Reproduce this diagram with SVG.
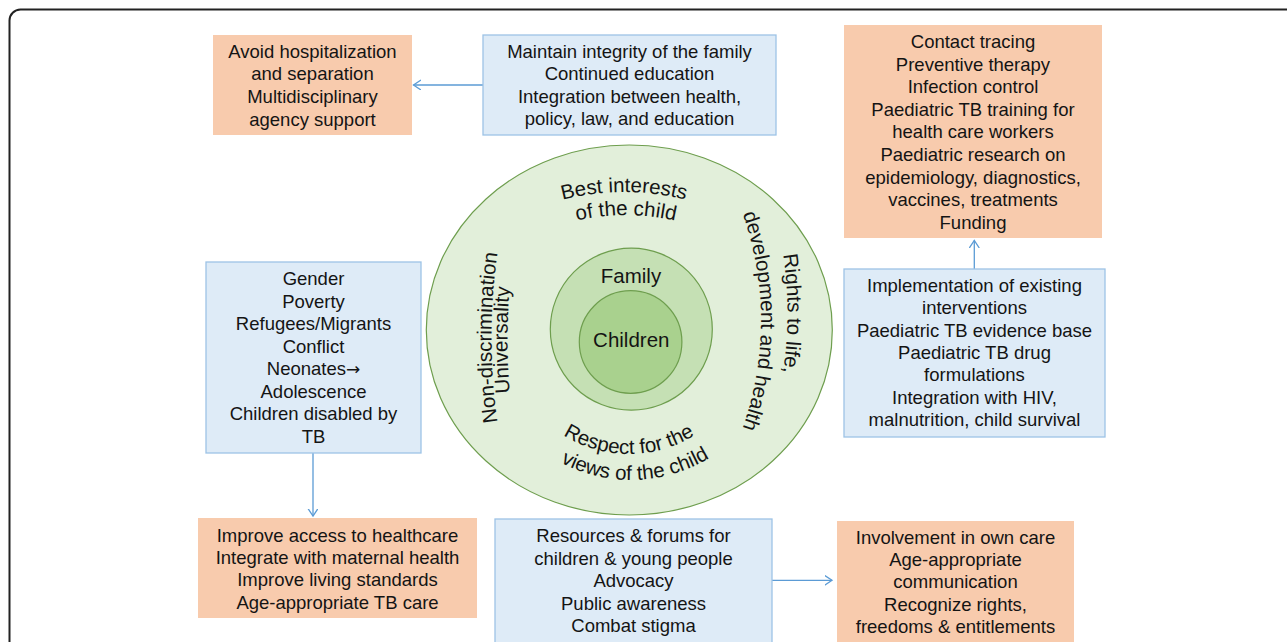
<svg xmlns="http://www.w3.org/2000/svg" width="1287" height="642" viewBox="0 0 1287 642">
<style>
.t{font-family:"Liberation Sans",Arial,Helvetica,sans-serif;font-size:18.5px;fill:#141414;text-anchor:middle}
.c{font-family:"Liberation Sans",Arial,Helvetica,sans-serif;font-size:20.5px;fill:#141414}
.m{text-anchor:middle}
.ar{font-family:"DejaVu Sans",sans-serif;font-size:17px}
.or{fill:#f8cbad;stroke:none}
.bl{fill:#deebf7;stroke:#9dc3e6;stroke-width:1.3}
.cn{stroke:#5b9bd5;stroke-width:1.3;fill:none;marker-end:url(#ah)}
.g{stroke:#6e9e4e;stroke-width:1.2}
</style>
<defs>
<marker id="ah" markerWidth="10" markerHeight="12" refX="7.5" refY="5" orient="auto" markerUnits="userSpaceOnUse">
<path d="M0,0 L7.5,5 L0,10" fill="none" stroke="#5b9bd5" stroke-width="1.3"/>
</marker>
<path id="pBest" d="M378,438 A246,246 0 0 1 870,438"/>
<path id="pOf" d="M407,434 A219,219 0 0 1 845,434"/>
<path id="pRights" d="M387.5,-86.5 A400,400 0 0 1 387.5,713.5"/>
<path id="pDev" d="M439,-1 A322,322 0 0 1 439,643"/>
<path id="pNon" d="M1091.5,937.5 A600,600 0 0 1 1091.5,-262.5"/>
<path id="pUni" d="M1107.5,940 A600,600 0 0 1 1107.5,-260"/>
<path id="pResp" d="M505,330 A124,124 0 0 0 753,330"/>
<path id="pViews" d="M481,330 A150,150 0 0 0 781,330"/>
</defs>
<rect x="9.5" y="9.5" width="1288" height="643" rx="11" fill="#fff" stroke="#222" stroke-width="2"/>

<g id="circles">
<ellipse cx="629.3" cy="330" rx="203" ry="185" fill="#e2efda" class="g"/>
<circle cx="631.3" cy="329.2" r="81" fill="#c5e0b4" class="g"/>
<circle cx="630.6" cy="342" r="51.3" fill="#a9d18e" class="g"/>
<text class="c m" x="631" y="282.7">Family</text>
<text class="c m" x="631.3" y="346.7">Children</text>
<text class="c m"><textPath href="#pBest" startOffset="50%">Best interests</textPath></text>
<text class="c m"><textPath href="#pOf" startOffset="50%">of the child</textPath></text>
<text class="c m"><textPath href="#pRights" startOffset="50%">Rights to life,</textPath></text>
<text class="c m"><textPath href="#pDev" startOffset="50%">development and health</textPath></text>
<text class="c m"><textPath href="#pNon" startOffset="50%">Non-discrimination</textPath></text>
<text class="c m"><textPath href="#pUni" startOffset="50%">Universality</textPath></text>
<text class="c m"><textPath href="#pResp" startOffset="50%">Respect for the</textPath></text>
<text class="c m"><textPath href="#pViews" startOffset="51%">views of the child</textPath></text>
</g>

<g id="connectors">
<line class="cn" x1="483" y1="85" x2="413.5" y2="85"/>
<line class="cn" x1="974.3" y1="269" x2="974.3" y2="240.5"/>
<line class="cn" x1="313" y1="453" x2="313" y2="516"/>
<line class="cn" x1="772" y1="580.3" x2="832" y2="580.3"/>
</g>

<g id="box-avoid">
<rect class="or" x="213" y="35" width="199" height="100"/>
<text class="t" x="312.5" y="57.7">Avoid hospitalization</text>
<text class="t" x="312.5" y="80.3">and separation</text>
<text class="t" x="312.5" y="102.9">Multidisciplinary</text>
<text class="t" x="312.5" y="125.5">agency support</text>
</g>

<g id="box-family">
<rect class="bl" x="483" y="35" width="293" height="100"/>
<text class="t" x="629.5" y="57.5">Maintain integrity of the family</text>
<text class="t" x="629.5" y="80.1">Continued education</text>
<text class="t" x="629.5" y="102.7">Integration between health,</text>
<text class="t" x="629.5" y="125.3">policy, law, and education</text>
</g>

<g id="box-contact">
<rect class="or" x="844" y="25" width="258" height="213"/>
<text class="t" x="973" y="48">Contact tracing</text>
<text class="t" x="973" y="70.6">Preventive therapy</text>
<text class="t" x="973" y="93.2">Infection control</text>
<text class="t" x="973" y="115.8">Paediatric TB training for</text>
<text class="t" x="973" y="138.4">health care workers</text>
<text class="t" x="973" y="161">Paediatric research on</text>
<text class="t" x="973" y="183.6">epidemiology, diagnostics,</text>
<text class="t" x="973" y="206.2">vaccines, treatments</text>
<text class="t" x="973" y="228.8">Funding</text>
</g>

<g id="box-implementation">
<rect class="bl" x="844" y="269" width="261" height="168"/>
<text class="t" x="974.5" y="291.7">Implementation of existing</text>
<text class="t" x="974.5" y="314.1">interventions</text>
<text class="t" x="974.5" y="336.5">Paediatric TB evidence base</text>
<text class="t" x="974.5" y="358.9">Paediatric TB drug</text>
<text class="t" x="974.5" y="381.3">formulations</text>
<text class="t" x="974.5" y="403.7">Integration with HIV,</text>
<text class="t" x="974.5" y="426.1">malnutrition, child survival</text>
</g>

<g id="box-gender">
<rect class="bl" x="206" y="262" width="215" height="191"/>
<text class="t" x="313.5" y="285">Gender</text>
<text class="t" x="313.5" y="307.5">Poverty</text>
<text class="t" x="313.5" y="330">Refugees/Migrants</text>
<text class="t" x="313.5" y="352.5">Conflict</text>
<text class="t" x="313.5" y="375">Neonates<tspan class="ar">→</tspan></text>
<text class="t" x="313.5" y="397.5">Adolescence</text>
<text class="t" x="313.5" y="420">Children disabled by</text>
<text class="t" x="313.5" y="442.5">TB</text>
</g>

<g id="box-access">
<rect class="or" x="198" y="518" width="279" height="100"/>
<text class="t" x="337.5" y="541.7">Improve access to healthcare</text>
<text class="t" x="337.5" y="564">Integrate with maternal health</text>
<text class="t" x="337.5" y="586.3">Improve living standards</text>
<text class="t" x="337.5" y="608.6">Age-appropriate TB care</text>
</g>

<g id="box-resources">
<rect class="bl" x="495" y="519" width="277" height="135"/>
<text class="t" x="633.5" y="542.3">Resources &amp; forums for</text>
<text class="t" x="633.5" y="564.8">children &amp; young people</text>
<text class="t" x="633.5" y="587.3">Advocacy</text>
<text class="t" x="633.5" y="609.8">Public awareness</text>
<text class="t" x="633.5" y="632.3">Combat stigma</text>
</g>

<g id="box-involvement">
<rect class="or" x="837" y="521" width="237" height="135"/>
<text class="t" x="955.5" y="544">Involvement in own care</text>
<text class="t" x="955.5" y="566.2">Age-appropriate</text>
<text class="t" x="955.5" y="588.4">communication</text>
<text class="t" x="955.5" y="610.6">Recognize rights,</text>
<text class="t" x="955.5" y="632.8">freedoms &amp; entitlements</text>
</g>
</svg>
